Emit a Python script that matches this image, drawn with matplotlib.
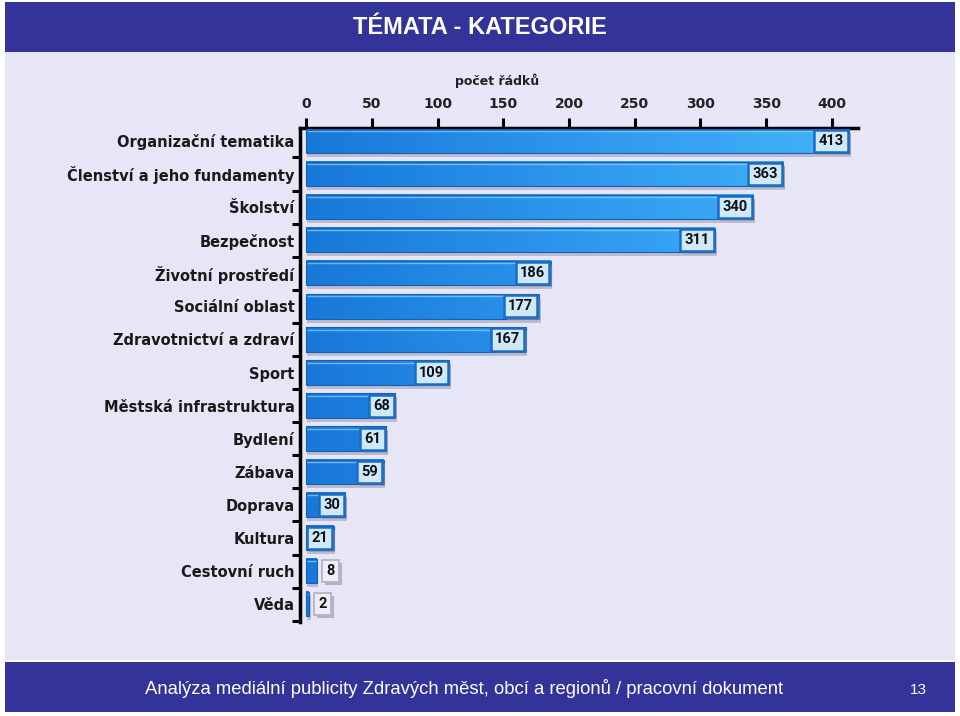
import numpy as np
import matplotlib
matplotlib.use('Agg')
import matplotlib.pyplot as plt
import matplotlib.patheffects as pe
from matplotlib.colors import LinearSegmentedColormap
from matplotlib.patches import Rectangle

# data
categories = ['Organizační tematika', 'Členství a jeho fundamenty', 'Školství',
              'Bezpečnost', 'Životní prostředí', 'Sociální oblast',
              'Zdravotnictví a zdraví', 'Sport', 'Městská infrastruktura',
              'Bydlení', 'Zábava', 'Doprava', 'Kultura', 'Cestovní ruch', 'Věda']
values = [413, 363, 340, 311, 186, 177, 167, 109, 68, 61, 59, 30, 21, 8, 2]
x_ticks = [0, 50, 100, 150, 200, 250, 300, 350, 400]

title = 'TÉMATA - KATEGORIE'
axis_title = 'počet řádků'
footer = 'Analýza mediální publicity Zdravých měst, obcí a regionů / pracovní dokument'
page = '13'

W, H = 960, 716
fig = plt.figure(figsize=(W / 100, H / 100), dpi=100, facecolor='white')

def fx(px):
    return px / W

def fy(py):
    return 1 - py / H

# background and header / footer bands
for top, bottom, col in [(52, 660, '#E6E6F6'), (2, 52, '#333399'), (662, 712, '#333399')]:
    fig.patches.append(Rectangle((fx(5), fy(bottom)), fx(950), (bottom - top) / H,
                                 transform=fig.transFigure, fc=col, ec='none', zorder=-10))

sans = ['Liberation Sans', 'DejaVu Sans']
fig.text(0.5, fy(27), title, color='white', fontsize=17, fontweight='bold',
         family=sans, ha='center', va='center')
fig.text(fx(464), fy(689), footer, color='white', fontsize=13.3,
         family=sans, ha='center', va='center')
fig.text(fx(918), fy(690), page, color='white', fontsize=11,
         family=sans, ha='center', va='center')

ax = fig.add_axes([fx(300), fy(622), fx(558), 494 / H])
ax.set_facecolor('none')

cmap = LinearSegmentedColormap.from_list('bar', ['#1878D8', '#2E98EE', '#45B4F8'])
h = 0.74
xmax = 420
y = np.arange(len(categories))

for i, v in enumerate(values):
    # shadow
    ax.add_patch(Rectangle((0.8, i - h / 2 + 0.12), v + 0.6, h, fc='#9A9AAE',
                           ec='none', alpha=0.55, zorder=1))
    grad = np.linspace(0, v / xmax, 256).reshape(1, -1)
    ax.imshow(grad, cmap=cmap, vmin=0, vmax=1, aspect='auto',
              extent=(0, v, i + h / 2, i - h / 2), zorder=2, interpolation='bilinear')
    ax.add_patch(Rectangle((0, i - h / 2), v, h, fc='none', ec='#1560B8',
                           lw=0.8, zorder=3))
    ax.plot([0.5, max(v - 0.5, 0.6)], [i - h / 2 + 0.07] * 2, color='#8FD0FA', lw=1.0,
            alpha=0.7, zorder=3, solid_capstyle='butt')

label_font = ['Roboto', 'DejaVu Sans']
for i, v in enumerate(values):
    if v >= 15:
        ann = ax.annotate(str(v), (v, i), xytext=(-3.9, 0), textcoords='offset points',
                          ha='right', va='center', fontsize=10.5, fontweight='bold',
                          family=label_font, color='#111111', zorder=5,
                          bbox=dict(boxstyle='square,pad=0.28', fc='#CFE9FB',
                                    ec='#1A6CC4', lw=1.8))
    else:
        ann = ax.annotate(str(v), (v, i), xytext=(7, 0), textcoords='offset points',
                          ha='left', va='center', fontsize=10.5, fontweight='bold',
                          family=label_font, color='#111111', zorder=5,
                          bbox=dict(boxstyle='square,pad=0.28', fc='#EEEEF6',
                                    ec='#B8B8C4', lw=1.4))
    ann.get_bbox_patch().set_path_effects([
        pe.SimplePatchShadow(offset=(2, -2), shadow_rgbFace='#9090A0', alpha=0.6),
        pe.Normal()])

ax.set_xlim(-4.6, 419.8)
ax.set_ylim(14.54, -0.39)

ax.xaxis.tick_top()
ax.set_xticks(x_ticks)
ax.set_xticklabels([str(t) for t in x_ticks], fontsize=10, fontweight='bold', color='#222222')
ax.tick_params(axis='x', direction='out', length=7, width=2.2, pad=5, color='black')

ax.set_yticks(y)
ax.set_yticklabels(categories, fontsize=10.5, fontweight='bold', color='#1A1A1A')
ax.set_yticks(np.arange(0.5, 14.6, 1), minor=True)
ax.tick_params(axis='y', which='major', length=0, pad=4)
ax.tick_params(axis='y', which='minor', direction='out', length=6, width=2.2, color='black')

for s in ['bottom', 'right']:
    ax.spines[s].set_visible(False)
for s in ['top', 'left']:
    ax.spines[s].set_linewidth(2.5)
    ax.spines[s].set_color('black')

fig.text(fx(497), fy(81), axis_title, fontsize=9, fontweight='bold',
         color='#222222', ha='center', va='center')

fig.savefig('out.png', dpi=100, facecolor=fig.get_facecolor())
